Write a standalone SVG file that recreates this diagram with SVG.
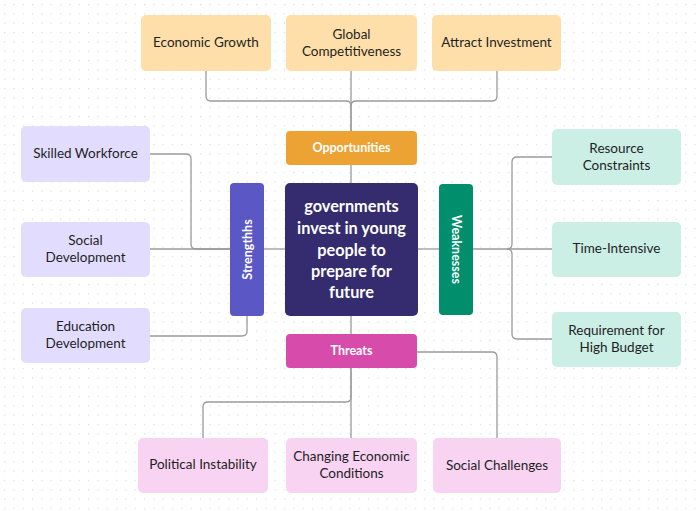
<svg xmlns="http://www.w3.org/2000/svg" width="700" height="511" viewBox="0 0 700 511">
<defs>
<pattern id="dots" x="4" y="4" width="9.33" height="9.33" patternUnits="userSpaceOnUse">
<rect x="0" y="0" width="1.2" height="1.2" fill="#dcdcdc"/>
</pattern>
</defs>
<style>
.t{font-family:Lato,"Noto Sans",sans-serif;font-size:13.5px;fill:#1f1f1f;text-anchor:middle;}
.w{font-family:Lato,"Noto Sans",sans-serif;font-weight:bold;fill:#ffffff;text-anchor:middle;}
.c{fill:none;stroke:#9a9a9a;stroke-width:1.3;}
.op{fill:#FFDFA9;}
.st{fill:#E2DDFE;}
.wk{fill:#CBEEE5;}
.th{fill:#F8D3F2;}
</style>
<rect width="700" height="511" fill="#ffffff"/>
<rect width="700" height="511" fill="url(#dots)"/>
<g id="connectors">
<path class="c" d="M206 71 V96 Q206 101 211 101 H346 Q351 101 351 106 V131"/>
<path class="c" d="M351 71 V131"/>
<path class="c" d="M497 71 V96 Q497 101 492 101 H356 Q351 101 351 106"/>
<path class="c" d="M351 165 V183"/>
<path class="c" d="M351 316 V334"/>
<path class="c" d="M150 154 H186 Q191 154 191 159 V244 Q191 249 196 249 H230"/>
<path class="c" d="M150 249 H230"/>
<path class="c" d="M150 336 H242 Q247 336 247 331 V316"/>
<path class="c" d="M264 249 H285"/>
<path class="c" d="M418 249 H439"/>
<path class="c" d="M473 249 H552"/>
<path class="c" d="M552 157 H517 Q512 157 512 162 V244 Q512 249 507 249"/>
<path class="c" d="M552 339 H517 Q512 339 512 334 V254 Q512 249 507 249"/>
<path class="c" d="M351 368 V397 Q351 402 346 402 H208 Q203 402 203 407 V438"/>
<path class="c" d="M351 368 V438"/>
<path class="c" d="M417 352 H492 Q497 352 497 357 V438"/>
</g>
<g id="center">
<rect x="285" y="183" width="133" height="133" rx="5" fill="#342C6F"/>
<text class="w" font-size="16.3" x="351.5" y="212">governments</text>
<text class="w" font-size="16.3" x="351.5" y="234">invest in young</text>
<text class="w" font-size="16.3" x="351.5" y="256">people to</text>
<text class="w" font-size="16.3" x="351.5" y="277">prepare for</text>
<text class="w" font-size="16.3" x="351.5" y="298">future</text>
</g>
<g id="opportunities">
<rect x="286" y="131" width="131" height="34" rx="4" fill="#EDA334"/>
<text class="w" font-size="12.5" x="351.5" y="152">Opportunities</text>
</g>
<g id="threats">
<rect x="286" y="334" width="131" height="34" rx="4" fill="#D74BAA"/>
<text class="w" font-size="12.5" x="351.5" y="355">Threats</text>
</g>
<g id="strengths">
<rect x="230" y="183" width="34" height="133" rx="4" fill="#5B58C6"/>
<text class="w" font-size="12.5" transform="translate(251.5 249.5) rotate(-90)" x="0" y="0">Strengthhs</text>
</g>
<g id="weaknesses">
<rect x="439" y="184" width="34" height="131" rx="4" fill="#008E6C"/>
<text class="w" font-size="12.5" transform="translate(451.5 249.5) rotate(90)" x="0" y="0">Weaknesses</text>
</g>
<g id="economic-growth">
<rect class="op" x="141" y="15" width="130" height="56" rx="5"/>
<text class="t" x="206" y="47">Economic Growth</text>
</g>
<g id="global-competitiveness">
<rect class="op" x="286" y="15" width="131" height="56" rx="5"/>
<text class="t" x="351.5" y="39">Global</text>
<text class="t" x="351.5" y="56">Competitiveness</text>
</g>
<g id="attract-investment">
<rect class="op" x="432" y="15" width="129" height="56" rx="5"/>
<text class="t" x="496.5" y="47">Attract Investment</text>
</g>
<g id="skilled-workforce">
<rect class="st" x="21" y="126" width="129" height="56" rx="5"/>
<text class="t" x="85.5" y="158">Skilled Workforce</text>
</g>
<g id="social-development">
<rect class="st" x="21" y="222" width="129" height="55" rx="5"/>
<text class="t" x="85.5" y="245">Social</text>
<text class="t" x="85.5" y="262">Development</text>
</g>
<g id="education-development">
<rect class="st" x="21" y="308" width="129" height="55" rx="5"/>
<text class="t" x="85.5" y="331">Education</text>
<text class="t" x="85.5" y="348">Development</text>
</g>
<g id="resource-constraints">
<rect class="wk" x="552" y="129" width="129" height="56" rx="5"/>
<text class="t" x="616.5" y="153">Resource</text>
<text class="t" x="616.5" y="170">Constraints</text>
</g>
<g id="time-intensive">
<rect class="wk" x="552" y="222" width="129" height="55" rx="5"/>
<text class="t" x="616.5" y="253">Time-Intensive</text>
</g>
<g id="requirement-high-budget">
<rect class="wk" x="552" y="312" width="129" height="55" rx="5"/>
<text class="t" x="616.5" y="335">Requirement for</text>
<text class="t" x="616.5" y="352">High Budget</text>
</g>
<g id="political-instability">
<rect class="th" x="138" y="438" width="130" height="55" rx="5"/>
<text class="t" x="203" y="469">Political Instability</text>
</g>
<g id="changing-economic-conditions">
<rect class="th" x="286" y="438" width="131" height="55" rx="5"/>
<text class="t" x="351.5" y="461">Changing Economic</text>
<text class="t" x="351.5" y="478">Conditions</text>
</g>
<g id="social-challenges">
<rect class="th" x="433" y="438" width="128" height="55" rx="5"/>
<text class="t" x="497" y="470">Social Challenges</text>
</g>
</svg>
